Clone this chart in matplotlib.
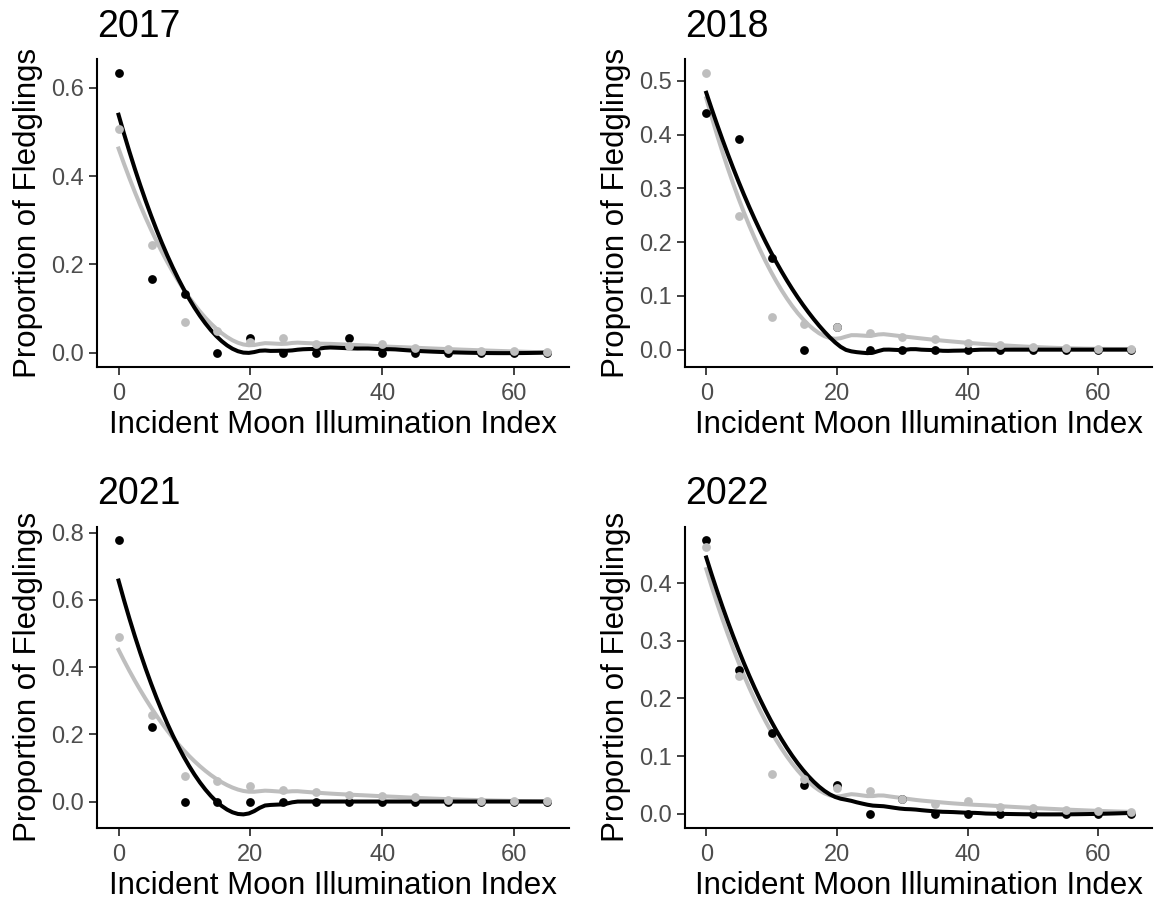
import numpy as np
import matplotlib.pyplot as plt

plt.rcParams['font.family'] = ['Liberation Sans', 'DejaVu Sans']

moon = [0, 5, 10, 15, 20, 25, 30, 35, 40, 45, 50, 55, 60, 65]
years = ['2017', '2018', '2021', '2022']

# proportion of fledglings per moon illumination bin, two groups per year
dark = {
    '2017': [0.633, 0.167, 0.133, 0, 0.034, 0, 0, 0.034, 0, 0, 0, 0, 0, 0],
    '2018': [0.44, 0.392, 0.17, 0, 0.042, 0, 0, 0, 0, 0, 0, 0, 0, 0],
    '2021': [0.777, 0.222, 0, 0, 0, 0, 0, 0, 0, 0, 0, 0, 0, 0],
    '2022': [0.475, 0.249, 0.14, 0.05, 0.05, 0, 0.025, 0, 0, 0, 0, 0, 0, 0],
}
light = {
    '2017': [0.507, 0.243, 0.07, 0.05, 0.025, 0.033, 0.02, 0.015, 0.019, 0.01, 0.008, 0.005, 0.003, 0.001],
    '2018': [0.514, 0.249, 0.061, 0.047, 0.0425, 0.031, 0.024, 0.02, 0.012, 0.008, 0.005, 0.003, 0.002, 0.001],
    '2021': [0.488, 0.258, 0.077, 0.06, 0.047, 0.033, 0.028, 0.019, 0.016, 0.014, 0.005, 0.003, 0.002, 0.001],
    '2022': [0.463, 0.239, 0.068, 0.06, 0.045, 0.039, 0.025, 0.016, 0.021, 0.012, 0.01, 0.006, 0.005, 0.003],
}
yticks = {
    '2017': [0, 0.2, 0.4, 0.6],
    '2018': [0, 0.1, 0.2, 0.3, 0.4, 0.5],
    '2021': [0, 0.2, 0.4, 0.6, 0.8],
    '2022': [0, 0.1, 0.2, 0.3, 0.4],
}


def loess(x, y, xs, span=0.75):
    # local quadratic fit with tricube weights
    x = np.asarray(x, float)
    y = np.asarray(y, float)
    q = int(np.floor(len(x) * span))
    out = []
    for x0 in xs:
        d = np.abs(x - x0)
        h = np.sort(d)[q - 1]
        w = np.clip(1 - (d / h) ** 3, 0, None) ** 3
        X = np.column_stack([np.ones_like(x), x - x0, (x - x0) ** 2])
        W = np.sqrt(w)
        beta = np.linalg.lstsq(X * W[:, None], y * W, rcond=None)[0]
        out.append(beta[0])
    return np.array(out)


fig = plt.figure(figsize=(11.56, 9.11), dpi=100)
boxes = [
    [0.084, 0.597, 0.408, 0.338],
    [0.5926, 0.597, 0.404, 0.338],
    [0.084, 0.091, 0.408, 0.331],
    [0.5926, 0.091, 0.404, 0.331],
]

xs = np.linspace(0, 65, 80)
for yr, box in zip(years, boxes):
    ax = fig.add_axes(box)
    ax.plot(xs, loess(moon, light[yr], xs), color='#bebebe', lw=2.9, zorder=2)
    ax.plot(xs, loess(moon, dark[yr], xs), color='black', lw=2.9, zorder=3)
    ax.scatter(moon, dark[yr], s=40, color='black', lw=0, zorder=4)
    ax.scatter(moon, light[yr], s=40, color='#bebebe', lw=0, zorder=4)

    ax.set_xticks([0, 20, 40, 60])
    ax.set_yticks(yticks[yr])
    ax.set_yticklabels(['%.1f' % v for v in yticks[yr]])
    ax.tick_params(labelsize=17, labelcolor='#4d4d4d', color='#333333',
                   length=6, width=1.3)
    ax.tick_params(axis='x', pad=5.4)
    for s in ['top', 'right']:
        ax.spines[s].set_visible(False)
    for s in ['left', 'bottom']:
        ax.spines[s].set_linewidth(1.5)
    ax.set_xlabel('Incident Moon Illumination Index', fontsize=22.5, labelpad=3.5)
    ax.set_ylabel('Proportion of Fledglings', fontsize=22.5, labelpad=6)
    ax.set_title(yr, fontsize=27, loc='left', pad=16)

fig.savefig('out.png', dpi=100)
